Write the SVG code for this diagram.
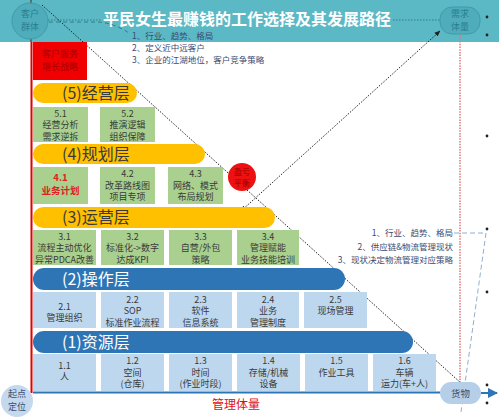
<svg xmlns="http://www.w3.org/2000/svg" width="499" height="418" viewBox="0 0 499 418">
<defs>
<style>
text{font-family:"Noto Sans CJK SC","Noto Sans",sans-serif;}
.box{font-size:9px;fill:#3a3a3a;text-anchor:middle;}
.grn{fill:#a9d08e;}
.lb{fill:#bdd7ee;}
.yel{fill:#ffc000;}
.blu{fill:#2e75b6;}
.lt{font-size:16px;fill:#3a3a3a;}
.lw{font-size:16px;fill:#ffffff;}
.note{font-size:8.5px;fill:#3c4a72;}
.nd{font-size:9px;text-anchor:middle;}
.dot{stroke:#222;stroke-width:1;stroke-dasharray:1.5 1.5;fill:none;}
.bul{fill:#222;}
</style>
<marker id="ab" viewBox="0 0 10 10" refX="9" refY="5" markerWidth="6" markerHeight="6" orient="auto-start-reverse"><path d="M0,1 L10,5 L0,9 z" fill="#222"/></marker>
<marker id="abl" viewBox="0 0 10 10" refX="9" refY="5" markerWidth="5" markerHeight="5" orient="auto"><path d="M0,0 L10,5 L0,10 z" fill="#2e75b6"/></marker>
</defs>
<rect x="0" y="0" width="499" height="418" fill="#ffffff"/>
<rect x="0" y="0" width="499" height="42" fill="#5bb8c5"/>
<text x="247" y="25" font-size="16" font-weight="bold" fill="#ffffff" text-anchor="middle">平民女生最赚钱的工作选择及其发展路径</text>

<g id="connectors">
<line x1="31" y1="0" x2="31" y2="42" stroke="#555" stroke-width="1.5"/>
<line x1="31.5" y1="42" x2="31.5" y2="393" stroke="#e00000" stroke-width="2"/>
<line x1="33" y1="392.5" x2="440" y2="392.5" stroke="#2e75b6" stroke-width="2"/>
<line x1="481" y1="393" x2="497" y2="393" stroke="#2e75b6" stroke-width="2" marker-end="url(#abl)"/>
<line x1="48" y1="20" x2="102" y2="20" stroke="#2f7f8c" stroke-width="1" stroke-dasharray="1.5 1.5"/>
<line x1="393" y1="20" x2="440" y2="20" stroke="#2f7f8c" stroke-width="1" stroke-dasharray="1.5 1.5"/>
<path d="M49,22 L98,22 Q114,23 129,33" stroke="#2f7f8c" stroke-width="1" stroke-dasharray="4 3" fill="none"/>
<line x1="460" y1="33" x2="460" y2="392" stroke="#e07a7a" stroke-width="1.5" stroke-dasharray="1.5 1.2"/>
<path d="M454,233 L486,233 L461,412" stroke="#8fb0d0" stroke-width="1" stroke-dasharray="5 3" fill="none"/>
<line x1="42" y1="5" x2="462" y2="384" class="dot"/>
<line x1="241" y1="211" x2="440" y2="31" class="dot" marker-start="url(#ab)" marker-end="url(#ab)"/>
</g>

<g id="node-kehu">
<circle cx="30" cy="21" r="18" fill="#4eacbb" stroke="#3e9cab" stroke-width="1"/>
<text x="30" y="17" class="nd" fill="#2a7f8e">客户</text>
<text x="30" y="30" class="nd" fill="#2a7f8e">群体</text>
</g>
<g id="node-xuqiu">
<rect x="440" y="7" width="40" height="27" rx="12" fill="#4eacbb" stroke="#3e9cab" stroke-width="1"/>
<text x="460" y="17" class="nd" fill="#2a7f8e">需求</text>
<text x="460" y="30" class="nd" fill="#2a7f8e">体量</text>
</g>
<g id="notes-top">
<text x="132" y="39" class="note">1、行业、趋势、格局</text>
<text x="132" y="51" class="note">2、定义近中远客户</text>
<text x="132" y="63" class="note">3、企业的江湖地位，客户竞争策略</text>
</g>
<g id="notes-right">
<text x="453" y="236" class="note" text-anchor="end" font-size="8">1、行业、趋势、格局</text>
<text x="453" y="250" class="note" text-anchor="end" font-size="8">2、供应链&amp;物流管理现状</text>
<text x="453" y="263" class="note" text-anchor="end" font-size="8">3、现状决定物流管理对应策略</text>
</g>
<g id="bullets">
<circle cx="487" cy="17" r="1.4" class="bul"/>
<circle cx="487" cy="35" r="1.4" class="bul"/>
<circle cx="487" cy="136" r="1.4" class="bul"/>
<circle cx="487" cy="229" r="1.4" class="bul"/>
<circle cx="487" cy="292" r="1.4" class="bul"/>
<circle cx="487" cy="385" r="1.4" class="bul"/>
<circle cx="487" cy="403" r="1.4" class="bul"/>
</g>

<g id="node-strategy">
<rect x="33" y="42" width="54" height="38" fill="#f00000"/>
<text x="60" y="57" font-size="9" fill="#a80000" text-anchor="middle">客户服务</text>
<text x="60" y="70" font-size="9" fill="#a80000" text-anchor="middle">增长战略</text>
</g>

<g id="layer5">
<rect x="33" y="83" width="104" height="20" rx="10" class="yel"/>
<text x="62" y="99" class="lt">(5)经营层</text>
</g>
<g id="box-5-1"><rect x="33" y="107" width="55" height="35" class="grn"/>
<text x="60.5" y="116.5" class="box">5.1</text><text x="60.5" y="128" class="box">经营分析</text><text x="60.5" y="139.5" class="box">需求逆拆</text></g>
<g id="box-5-2"><rect x="100" y="107" width="55" height="35" class="grn"/>
<text x="127.5" y="116.5" class="box">5.2</text><text x="127.5" y="128" class="box">推演逻辑</text><text x="127.5" y="139.5" class="box">组织保障</text></g>

<g id="layer4">
<rect x="33" y="144" width="172" height="20" rx="10" class="yel"/>
<text x="62" y="160" class="lt">(4)规划层</text>
</g>
<g id="box-4-1"><rect x="33" y="167" width="55" height="37" class="grn"/>
<text x="60.5" y="181" class="box" style="fill:#e02020;font-weight:bold;font-size:9.5px">4.1</text><text x="60.5" y="194" class="box" style="fill:#e02020;font-weight:bold;font-size:9.5px">业务计划</text></g>
<g id="box-4-2"><rect x="100" y="167" width="55" height="37" class="grn"/>
<text x="127.5" y="177" class="box">4.2</text><text x="127.5" y="188.5" class="box">改革路线图</text><text x="127.5" y="200" class="box">项目专项</text></g>
<g id="box-4-3"><rect x="168" y="167" width="55" height="37" class="grn"/>
<text x="195.5" y="177" class="box">4.3</text><text x="195.5" y="188.5" class="box">网络、模式</text><text x="195.5" y="200" class="box">布局规划</text></g>
<g id="node-breakeven">
<circle cx="242" cy="177" r="14" fill="#ee1111"/>
<text x="242" y="175" font-size="8" fill="#9a0000" text-anchor="middle">盈亏</text>
<text x="242" y="186" font-size="8" fill="#9a0000" text-anchor="middle">平衡</text>
</g>

<g id="layer3">
<rect x="33" y="207" width="242" height="21" rx="10.5" class="yel"/>
<text x="62" y="223" class="lt">(3)运营层</text>
</g>
<g id="box-3-1"><rect x="33" y="230" width="63" height="35" class="grn"/>
<text x="64.5" y="239.5" class="box">3.1</text><text x="64.5" y="251" class="box">流程主动优化</text><text x="64.5" y="262.5" class="box">异常PDCA改善</text></g>
<g id="box-3-2"><rect x="101" y="230" width="63" height="35" class="grn"/>
<text x="132.5" y="239.5" class="box">3.2</text><text x="132.5" y="251" class="box">标准化-&gt;数字</text><text x="132.5" y="262.5" class="box">达成KPI</text></g>
<g id="box-3-3"><rect x="169" y="230" width="63" height="35" class="grn"/>
<text x="200.5" y="239.5" class="box">3.3</text><text x="200.5" y="251" class="box">自营/外包</text><text x="200.5" y="262.5" class="box">策略</text></g>
<g id="box-3-4"><rect x="237" y="230" width="62" height="35" class="grn"/>
<text x="268" y="239.5" class="box">3.4</text><text x="268" y="251" class="box">管理赋能</text><text x="268" y="262.5" class="box">业务技能培训</text></g>

<g id="layer2">
<rect x="33" y="268" width="312" height="22" rx="11" class="blu"/>
<text x="62" y="285" class="lw">(2)操作层</text>
</g>
<g id="box-2-1"><rect x="33" y="292" width="63" height="36" class="lb"/>
<text x="64.5" y="309.5" class="box">2.1</text><text x="64.5" y="321" class="box">管理组织</text></g>
<g id="box-2-2"><rect x="101" y="292" width="63" height="36" class="lb"/>
<text x="132.5" y="302.5" class="box">2.2</text><text x="132.5" y="314" class="box">SOP</text><text x="132.5" y="325.5" class="box">标准作业流程</text></g>
<g id="box-2-3"><rect x="169" y="292" width="63" height="36" class="lb"/>
<text x="200.5" y="302.5" class="box">2.3</text><text x="200.5" y="314" class="box">软件</text><text x="200.5" y="325.5" class="box">信息系统</text></g>
<g id="box-2-4"><rect x="237" y="292" width="62" height="36" class="lb"/>
<text x="268" y="302.5" class="box">2.4</text><text x="268" y="314" class="box">业务</text><text x="268" y="325.5" class="box">管理制度</text></g>
<g id="box-2-5"><rect x="304" y="292" width="63" height="36" class="lb"/>
<text x="335.5" y="302.5" class="box">2.5</text><text x="335.5" y="314" class="box">现场管理</text></g>

<g id="layer1">
<rect x="33" y="331" width="380" height="22" rx="11" class="blu"/>
<text x="62" y="348" class="lw">(1)资源层</text>
</g>
<g id="box-1-1"><rect x="33" y="354" width="63" height="37" class="lb"/>
<text x="64.5" y="368.5" class="box">1.1</text><text x="64.5" y="380" class="box">人</text></g>
<g id="box-1-2"><rect x="101" y="354" width="63" height="37" class="lb"/>
<text x="132.5" y="364" class="box">1.2</text><text x="132.5" y="375.5" class="box">空间</text><text x="132.5" y="387" class="box">(仓库)</text></g>
<g id="box-1-3"><rect x="169" y="354" width="63" height="37" class="lb"/>
<text x="200.5" y="364" class="box">1.3</text><text x="200.5" y="375.5" class="box">时间</text><text x="200.5" y="387" class="box">(作业时段)</text></g>
<g id="box-1-4"><rect x="237" y="354" width="63" height="37" class="lb"/>
<text x="268.5" y="364" class="box">1.4</text><text x="268.5" y="375.5" class="box">存储/机械</text><text x="268.5" y="387" class="box">设备</text></g>
<g id="box-1-5"><rect x="305" y="354" width="63" height="37" class="lb"/>
<text x="336.5" y="364" class="box">1.5</text><text x="336.5" y="375.5" class="box">作业工具</text></g>
<g id="box-1-6"><rect x="373" y="354" width="63" height="37" class="lb"/>
<text x="404.5" y="364" class="box">1.6</text><text x="404.5" y="375.5" class="box">车辆</text><text x="404.5" y="387" class="box">运力(车+人)</text></g>

<g id="node-start">
<circle cx="17" cy="401" r="16" fill="#c5d9ee"/>
<text x="17" y="397" class="nd" fill="#3a4f70">起点</text>
<text x="17" y="410" class="nd" fill="#3a4f70">定位</text>
</g>
<g id="node-goods">
<rect x="440" y="382" width="41" height="22" rx="11" fill="#b6cfe9"/>
<text x="460.5" y="396.5" font-size="9.5" fill="#3a4f70" text-anchor="middle">货物</text>
</g>
<g id="label-mgmt">
<text x="236" y="409" font-size="12" fill="#e01010" text-anchor="middle">管理体量</text>
</g>
</svg>
